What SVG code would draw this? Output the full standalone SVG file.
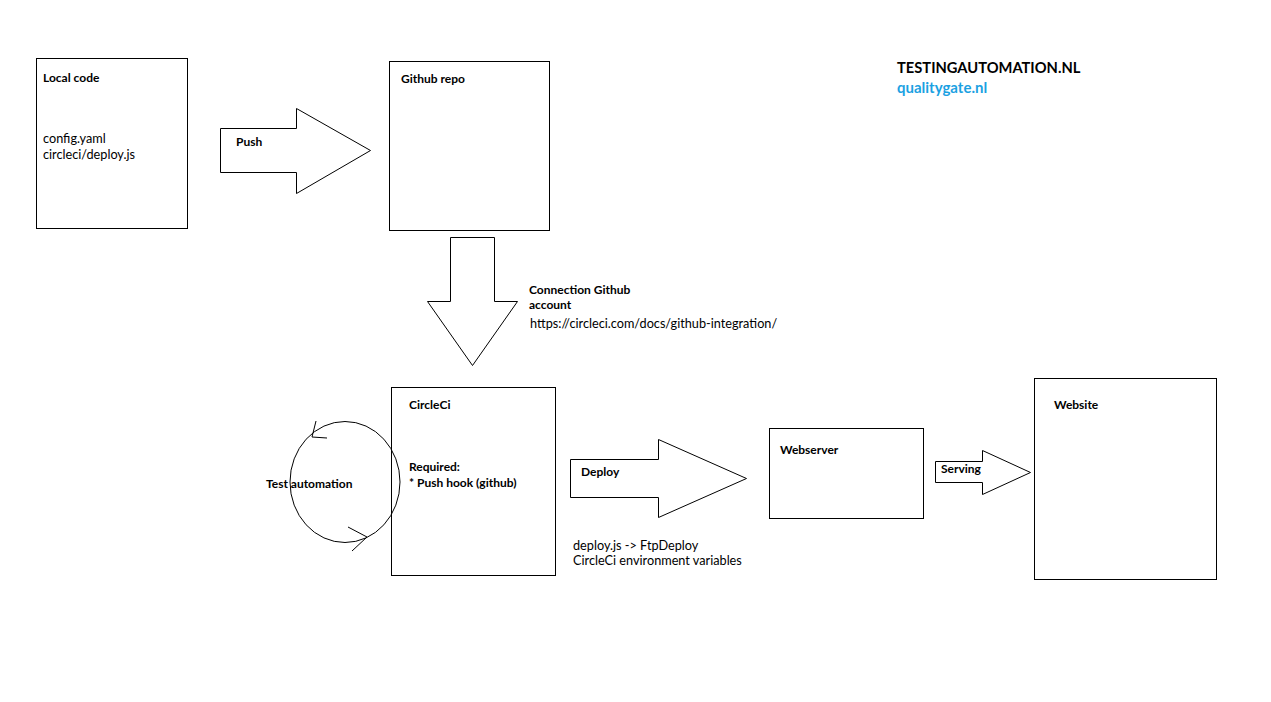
<svg xmlns="http://www.w3.org/2000/svg" width="1271" height="702" viewBox="0 0 1271 702">
<style>
.box{fill:#fff;stroke:#000;stroke-width:1}
.arr{fill:#fff;stroke:#000;stroke-width:1}
text{font-family:Lato,"Open Sans","Liberation Sans",sans-serif;font-size:12.7px;fill:#000}
.b{font-weight:bold;font-size:12px}
</style>
<rect width="1271" height="702" fill="#fff"/>
<g id="connectors">
<polygon id="push" class="arr" points="220.5,128.5 296.5,128.5 296.5,108.5 370.5,150.5 296.5,193.5 296.5,172.5 220.5,172.5"/>
<polygon id="conn" class="arr" points="450.5,237.5 494.5,237.5 494.5,301.5 517.5,301.5 472.5,365.5 427.5,301.5 450.5,301.5"/>
<polygon id="deploy" class="arr" points="570.5,459.5 658.5,459.5 658.5,439.5 746.5,478.5 658.5,517.5 658.5,497.5 570.5,497.5"/>
<polygon id="serving" class="arr" points="935.5,461.5 982.5,461.5 982.5,450.5 1030.5,472.5 982.5,494.5 982.5,482.5 935.5,482.5"/>
</g>
<g id="local-code">
<rect class="box" x="36.5" y="58.5" width="151" height="170"/>
<text class="b" x="43" y="82">Local code</text>
<text x="43" y="143">config.yaml</text>
<text x="43" y="159">circleci/deploy.js</text>
</g>
<text class="b" x="236" y="146">Push</text>
<g id="github-repo">
<rect class="box" x="389.5" y="61.5" width="160" height="169"/>
<text class="b" x="401" y="83">Github repo</text>
</g>
<text class="b" x="529" y="294">Connection Github</text>
<text class="b" x="529" y="309">account</text>
<text x="530" y="328">https://circleci.com/docs/github-integration/</text>
<g id="circleci">
<rect class="box" x="391.5" y="387.5" width="164" height="188"/>
<text class="b" x="409" y="409">CircleCi</text>
<text class="b" x="409" y="471">Required:</text>
<text class="b" x="409" y="487">* Push hook (github)</text>
</g>
<g id="test-automation">
<ellipse cx="345" cy="482" rx="55" ry="60.5" fill="none" stroke="#000" stroke-width="1"/>
<polyline points="316,421 312,437 327,438" fill="none" stroke="#000" stroke-width="1"/>
<polyline points="348,527 367,537 352,551" fill="none" stroke="#000" stroke-width="1"/>
<text class="b" x="266" y="488">Test automation</text>
</g>
<text class="b" x="581" y="476">Deploy</text>
<text x="573" y="550">deploy.js -&gt; FtpDeploy</text>
<text x="573" y="565">CircleCi environment variables</text>
<g id="webserver">
<rect class="box" x="769.5" y="428.5" width="154" height="90"/>
<text class="b" x="780" y="454">Webserver</text>
</g>
<text class="b" x="941" y="473">Serving</text>
<g id="website">
<rect class="box" x="1034.5" y="378.5" width="182" height="201"/>
<text class="b" x="1054" y="409">Website</text>
</g>
<g id="brand">
<text class="b" x="897" y="73" style="font-size:14.7px">TESTINGAUTOMATION.NL</text>
<text class="b" x="897" y="93" style="font-size:15px;fill:#1ba1e2">qualitygate.nl</text>
</g>
</svg>
